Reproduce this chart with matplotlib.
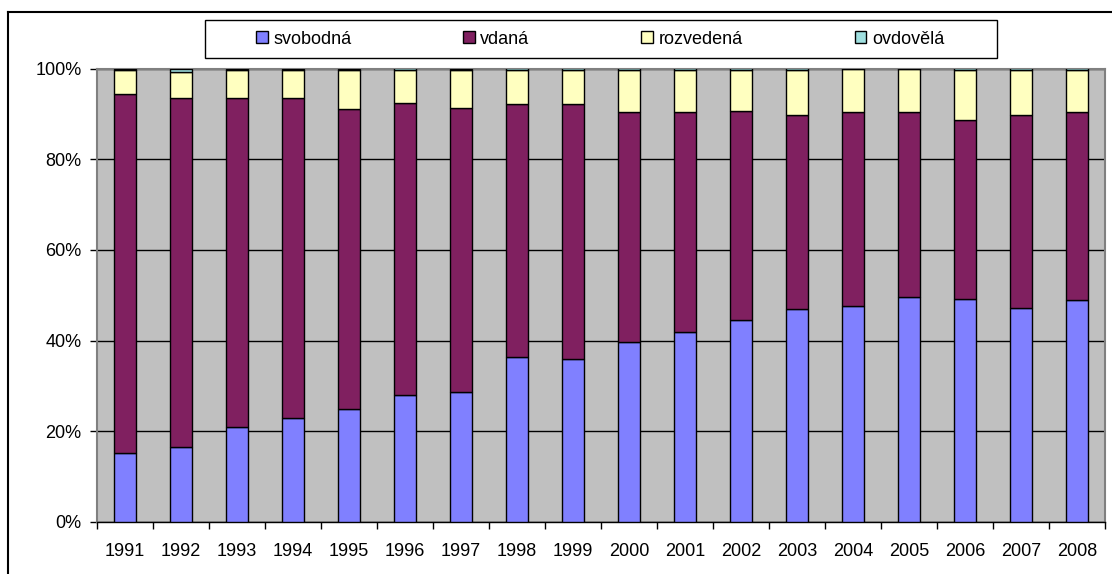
import matplotlib.pyplot as plt
from matplotlib.patches import Rectangle
from matplotlib.lines import Line2D
import numpy as np

plt.rcParams['font.family'] = ['Liberation Sans', 'DejaVu Sans']

# roky a podíly (%) podle rodinného stavu
years = ['1991', '1992', '1993', '1994', '1995', '1996', '1997', '1998', '1999',
         '2000', '2001', '2002', '2003', '2004', '2005', '2006', '2007', '2008']
svobodna = [15.3, 16.5, 21.0, 23.0, 25.0, 28.0, 28.7, 36.4, 36.0,
            39.6, 41.9, 44.6, 47.0, 47.6, 49.7, 49.2, 47.2, 48.9]
vdana = [78.9, 77.1, 72.3, 70.3, 65.9, 64.2, 62.6, 55.6, 56.0,
         50.7, 48.4, 46.0, 42.6, 42.7, 40.6, 39.4, 42.4, 41.4]
rozvedena = [5.3, 5.6, 6.2, 6.2, 8.6, 7.4, 8.2, 7.6, 7.6,
             9.3, 9.3, 9.0, 10.0, 9.6, 9.6, 11.0, 10.0, 9.3]
ovdovela = [0.4, 0.8, 0.4, 0.4, 0.4, 0.3, 0.4, 0.3, 0.3,
            0.3, 0.3, 0.3, 0.3, 0.1, 0.1, 0.3, 0.3, 0.3]

series = [('svobodná', svobodna, '#8080FF'),
          ('vdaná', vdana, '#802060'),
          ('rozvedená', rozvedena, '#FFFFC0'),
          ('ovdovělá', ovdovela, '#A0E0E0')]

fig = plt.figure(figsize=(11.12, 5.74), dpi=100)
ax = fig.add_axes([97/1112, 1 - 522/574, (1105 - 97)/1112, (522 - 68.5)/574])
ax.set_facecolor('#C0C0C0')

x = np.arange(len(years))
total = np.sum([s[1] for s in series], axis=0)
bottom = np.zeros(len(years))
handles = []
for name, vals, col in series:
    v = np.array(vals) / total * 100
    b = ax.bar(x, v, 0.4, bottom=bottom, color=col, edgecolor='black',
               linewidth=1.0, label=name, zorder=3)
    handles.append(b)
    bottom += v

ax.set_xlim(-0.5, len(years) - 0.5)
ax.set_ylim(0, 100)
ax.set_yticks([0, 20, 40, 60, 80, 100])
ax.set_yticklabels(['0%', '20%', '40%', '60%', '80%', '100%'])
ax.yaxis.grid(True, color='black', linewidth=1.0, zorder=1)
ax.set_axisbelow(True)

ax.set_xticks(np.arange(len(years) + 1) - 0.5)
ax.set_xticklabels([])
ax.set_xticks(x, minor=True)
ax.set_xticklabels(years, minor=True)
ax.tick_params(axis='x', which='major', length=5, width=1, color='black')
ax.tick_params(axis='x', which='minor', length=0, pad=15, labelsize=13)
ax.tick_params(axis='y', length=5, width=1, color='black', labelsize=13, pad=6)

for s in ['left', 'top', 'right']:
    ax.spines[s].set_color('#808080')
    ax.spines[s].set_linewidth(1.5)
ax.spines['bottom'].set_color('black')
ax.spines['bottom'].set_linewidth(1.0)

# rámeček legendy
fig.patches.append(Rectangle((205/1112, 1 - 58/574), 792/1112, 38/574,
                             transform=fig.transFigure, facecolor='white',
                             edgecolor='black', linewidth=1.0))
fig.legend(handles=handles, loc='center', bbox_to_anchor=(600/1112, 1 - 39/574),
           ncol=4, frameon=False, fontsize=13, handlelength=0.65, handleheight=0.65,
           handletextpad=0.3, columnspacing=6.2)

# vnější rámeček grafu
fig.add_artist(Line2D([8/1112, 8/1112], [0, 1 - 12/574], color='black', linewidth=1.5))
fig.add_artist(Line2D([8/1112, 1], [1 - 12/574, 1 - 12/574], color='black', linewidth=1.5))

fig.savefig('out.png', dpi=100)
